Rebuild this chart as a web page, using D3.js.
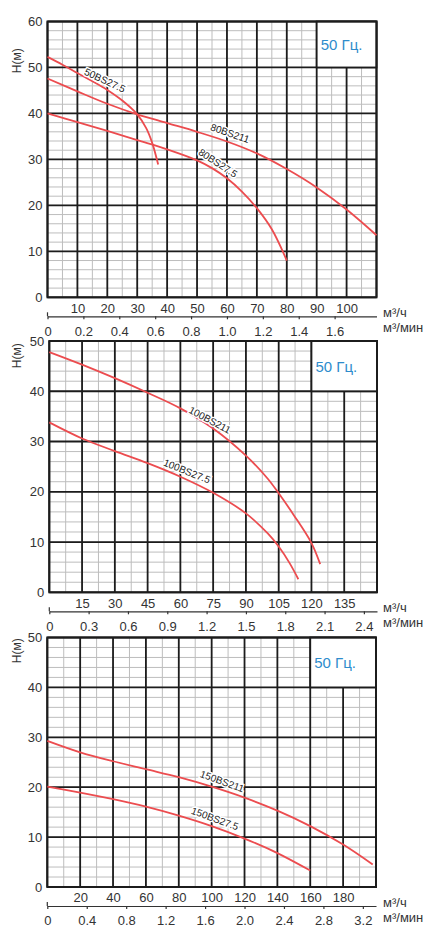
<!DOCTYPE html>
<html>
<head>
<meta charset="utf-8">
<script src="https://cdn.jsdelivr.net/npm/d3@7"></script>
<style>
  body { margin: 0; background: #fff; }
  text { font-family: Arial, "Liberation Sans", sans-serif; }
</style>
</head>
<body>
<div id="chart"></div>
<script>
'use strict';

// ---- chart 1 : 50BS / 80BS ----
var flowTicks1 = [10, 20, 30, 40, 50, 60, 70, 80, 90, 100];
var minTicks1 = [0, 0.2, 0.4, 0.6, 0.8, 1.0, 1.2, 1.4, 1.6];
var headTicks1 = [0, 10, 20, 30, 40, 50, 60];
var q50BS275 = [0, 5, 10, 15, 20, 25, 30, 33, 35, 37];
var h50BS275 = [52.3, 50.6, 48.8, 47.0, 45.1, 42.8, 39.8, 36.8, 33.6, 28.9];
var q80BS211 = [0, 10, 20, 30, 40, 50, 60, 70, 80, 90, 100, 110];
var h80BS211 = [47.6, 44.8, 42.1, 39.8, 37.9, 36.0, 33.9, 31.3, 27.9, 23.9, 19.1, 13.5];
var q80BS275 = [0, 10, 20, 30, 40, 50, 55, 60, 65, 70, 75, 80];
var h80BS275 = [40.0, 38.1, 36.2, 34.2, 32.2, 29.8, 28.1, 25.9, 23.0, 19.4, 14.8, 8.0];

// ---- chart 2 : 100BS ----
var flowTicks2 = [15, 30, 45, 60, 75, 90, 105, 120, 135];
var minTicks2 = [0, 0.3, 0.6, 0.9, 1.2, 1.5, 1.8, 2.1, 2.4];
var headTicks2 = [0, 10, 20, 30, 40, 50];
var q100BS211 = [0, 15, 30, 45, 60, 75, 90, 100, 105, 112, 120, 124];
var h100BS211 = [47.8, 45.3, 42.6, 39.7, 36.6, 32.6, 27.2, 22.6, 19.7, 15.3, 9.8, 5.6];
var q100BS275 = [0, 15, 30, 45, 60, 75, 90, 100, 105, 110, 114];
var h100BS275 = [33.8, 30.6, 28.1, 25.7, 23.0, 19.8, 15.7, 11.7, 9.1, 5.8, 2.6];

// ---- chart 3 : 150BS ----
var flowTicks3 = [20, 40, 60, 80, 100, 120, 140, 160, 180];
var minTicks3 = [0, 0.4, 0.8, 1.2, 1.6, 2.0, 2.4, 2.8, 3.2];
var headTicks3 = [0, 10, 20, 30, 40, 50];
var q150BS211 = [0, 20, 40, 60, 80, 100, 120, 140, 160, 180, 198];
var h150BS211 = [29.3, 27.0, 25.2, 23.6, 22.0, 20.1, 17.9, 15.3, 12.2, 8.5, 4.5];
var q150BS275 = [0, 20, 40, 60, 80, 100, 120, 140, 160];
var h150BS275 = [20.1, 18.9, 17.6, 16.1, 14.3, 12.2, 9.7, 6.8, 3.3];

var charts = [
  {
    flowMax: 110, headMax: 60, flowStep: 10,
    flowTicks: flowTicks1, minTicks: minTicks1, headTicks: headTicks1,
    box: [90, 50],
    curves: [
      {name: '50BS27.5', q: q50BS275, h: h50BS275, lq: 19.2, lh: 47.2, rot: 25},
      {name: '80BS211', q: q80BS211, h: h80BS211, lq: 61, lh: 35.7, rot: 19},
      {name: '80BS27.5', q: q80BS275, h: h80BS275, lq: 57, lh: 29.2, rot: 33}
    ]
  },
  {
    flowMax: 150, headMax: 50, flowStep: 15,
    flowTicks: flowTicks2, minTicks: minTicks2, headTicks: headTicks2,
    box: [120, 40],
    curves: [
      {name: '100BS211', q: q100BS211, h: h100BS211, lq: 73.5, lh: 34.3, rot: 28},
      {name: '100BS27.5', q: q100BS275, h: h100BS275, lq: 63, lh: 24.1, rot: 22}
    ]
  },
  {
    flowMax: 200, headMax: 50, flowStep: 20,
    flowTicks: flowTicks3, minTicks: minTicks3, headTicks: headTicks3,
    box: [160, 40],
    curves: [
      {name: '150BS211', q: q150BS211, h: h150BS211, lq: 106.3, lh: 21.2, rot: 20},
      {name: '150BS27.5', q: q150BS275, h: h150BS275, lq: 102, lh: 13.7, rot: 20}
    ]
  }
];

// pixel frames for the three panels
var frames = [
  {left: 47.5, right: 376.5, top: 21.5, bottom: 297.3, titleY: 60.7},
  {left: 49.3, right: 377, top: 341, bottom: 592.3, titleY: 355.8},
  {left: 47.3, right: 376, top: 637.5, bottom: 887, titleY: 650.8}
];

var width = 436, height = 936;
var curveColor = '#ec4c4f';
var majorColor = '#1c1c1c';
var minorColor = '#bdbdbd';
var textColor = '#333';

var svg = d3.select('#chart').append('svg')
  .attr('width', width).attr('height', height);

var fmtMin = function(d){ return d === 0 ? '0' : d3.format('.1f')(d); };

charts.forEach(function(c, i){
  var f = frames[i];
  var g = svg.append('g');

  var x = d3.scaleLinear().domain([0, c.flowMax]).range([f.left, f.right]);
  var y = d3.scaleLinear().domain([0, c.headMax]).range([f.bottom, f.top]);
  var x2 = d3.scaleLinear().domain([0, c.flowMax / 60]).range([f.left, f.right]);

  // minor grid
  var minorX = d3.range(0, c.flowMax + 1e-6, c.flowStep / 2);
  var minorY = d3.range(0, c.headMax + 1e-6, 2);
  g.append('g').selectAll('line').data(minorX).enter().append('line')
    .attr('x1', function(d){ return x(d); }).attr('x2', function(d){ return x(d); })
    .attr('y1', y(0)).attr('y2', y(c.headMax))
    .attr('stroke', minorColor).attr('stroke-width', 1);
  g.append('g').selectAll('line').data(minorY).enter().append('line')
    .attr('y1', function(d){ return y(d); }).attr('y2', function(d){ return y(d); })
    .attr('x1', x(0)).attr('x2', x(c.flowMax))
    .attr('stroke', minorColor).attr('stroke-width', 1);

  // major grid
  var majorX = d3.range(0, c.flowMax + 1e-6, c.flowStep);
  g.append('g').selectAll('line').data(majorX).enter().append('line')
    .attr('x1', function(d){ return x(d); }).attr('x2', function(d){ return x(d); })
    .attr('y1', y(0)).attr('y2', y(c.headMax))
    .attr('stroke', majorColor).attr('stroke-width', 1.8);
  g.append('g').selectAll('line').data(c.headTicks).enter().append('line')
    .attr('y1', function(d){ return y(d); }).attr('y2', function(d){ return y(d); })
    .attr('x1', x(0)).attr('x2', x(c.flowMax))
    .attr('stroke', majorColor).attr('stroke-width', 1.8);

  // white corner box with frequency note
  g.append('rect')
    .attr('x', x(c.box[0])).attr('y', y(c.headMax))
    .attr('width', x(c.flowMax) - x(c.box[0]))
    .attr('height', y(c.box[1]) - y(c.headMax))
    .attr('fill', '#fff').attr('stroke', majorColor).attr('stroke-width', 1.8);
  g.append('text')
    .attr('x', x(c.box[0]) + 4)
    .attr('y', (y(c.headMax) + y(c.box[1])) / 2)
    .attr('dy', '0.36em')
    .attr('font-size', '15px')
    .attr('fill', '#2e8ccc')
    .text('50 Гц.');

  // border
  g.append('rect')
    .attr('x', f.left).attr('y', f.top)
    .attr('width', f.right - f.left).attr('height', f.bottom - f.top)
    .attr('fill', 'none').attr('stroke', majorColor).attr('stroke-width', 2);

  // curves
  var line = d3.line()
    .x(function(d){ return x(d[0]); })
    .y(function(d){ return y(d[1]); })
    .curve(d3.curveCatmullRom.alpha(0.5));
  c.curves.forEach(function(cv){
    g.append('path')
      .datum(d3.zip(cv.q, cv.h))
      .attr('d', line)
      .attr('fill', 'none')
      .attr('stroke', curveColor)
      .attr('stroke-width', 1.8);
  });
  c.curves.forEach(function(cv){
    g.append('text')
      .attr('transform', 'translate(' + x(cv.lq) + ',' + y(cv.lh) + ') rotate(' + cv.rot + ')')
      .attr('text-anchor', 'middle')
      .attr('dy', '0.35em')
      .attr('font-size', '10px')
      .attr('fill', '#222')
      .attr('stroke', '#fff').attr('stroke-width', 3)
      .attr('paint-order', 'stroke')
      .text(cv.name);
  });

  // head axis labels
  var yAxis = g.append('g')
    .attr('transform', 'translate(' + f.left + ',0)')
    .call(d3.axisLeft(y).tickValues(c.headTicks).tickSize(0).tickPadding(5));
  yAxis.select('.domain').remove();
  yAxis.selectAll('text').attr('font-size', '13px').attr('fill', textColor)
    .attr('font-family', 'Arial, "Liberation Sans", sans-serif');

  g.append('text')
    .attr('transform', 'translate(17,' + f.titleY + ') rotate(-90)')
    .attr('text-anchor', 'middle')
    .attr('dy', '0.35em')
    .attr('font-size', '12px')
    .attr('fill', textColor)
    .text('H(м)');

  // flow m³/h labels
  var xAxis = g.append('g')
    .attr('transform', 'translate(0,' + f.bottom + ')')
    .call(d3.axisBottom(x).tickValues(c.flowTicks).tickSize(0).tickPadding(6));
  xAxis.select('.domain').remove();
  xAxis.selectAll('text').attr('font-size', '13px').attr('fill', textColor)
    .attr('font-family', 'Arial, "Liberation Sans", sans-serif');

  // flow m³/min axis
  var axisY = f.bottom + 19;
  var x2Axis = g.append('g')
    .attr('transform', 'translate(0,' + axisY + ')')
    .call(d3.axisBottom(x2).tickValues(c.minTicks).tickFormat(fmtMin)
      .tickSizeInner(3).tickSizeOuter(0).tickPadding(7));
  x2Axis.select('.domain').attr('stroke', textColor).attr('stroke-width', 1.2);
  x2Axis.selectAll('line').attr('stroke', textColor).attr('stroke-width', 1.2);
  x2Axis.selectAll('text').attr('font-size', '13px').attr('fill', textColor)
    .attr('font-family', 'Arial, "Liberation Sans", sans-serif');
  g.append('line')
    .attr('x1', x2(0)).attr('x2', x2(0))
    .attr('y1', axisY - 4).attr('y2', axisY)
    .attr('stroke', textColor).attr('stroke-width', 1.2);

  g.append('text')
    .attr('x', 383).attr('y', f.bottom + 15).attr('dy', '0.35em')
    .attr('font-size', '13px').attr('fill', textColor)
    .text('м³/ч');
  g.append('text')
    .attr('x', 383).attr('y', f.bottom + 30).attr('dy', '0.35em')
    .attr('font-size', '13px').attr('fill', textColor)
    .text('м³/мин');
});
</script>
</body>
</html>
